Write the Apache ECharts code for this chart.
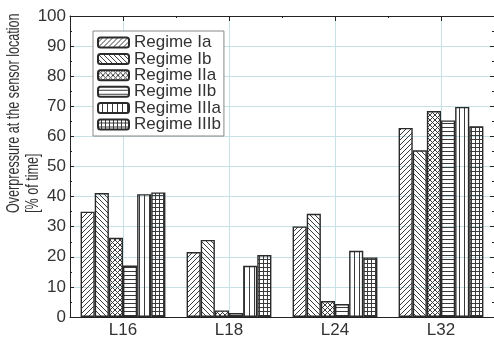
<!DOCTYPE html>
<html>
<head>
<meta charset="utf-8">
<script src="https://cdn.jsdelivr.net/npm/echarts@6/dist/echarts.min.js"></script>
<style>
html,body{margin:0;padding:0;background:#fff;}
#chart{width:494px;height:341px;}
</style>
</head>
<body>
<div id="chart"></div>
<script>
const categories = ['L16', 'L18', 'L24', 'L32'];
const seriesNames = ['Regime Ia', 'Regime Ib', 'Regime IIa', 'Regime IIb', 'Regime IIIa', 'Regime IIIb'];
const regimeIa = [35.0, 21.6, 30.1, 62.8];
const regimeIb = [41.2, 25.6, 34.3, 55.4];
const regimeIIa = [26.3, 2.2, 5.3, 68.4];
const regimeIIb = [17.1, 1.3, 4.3, 65.3];
const regimeIIIa = [40.8, 17.0, 22.0, 69.8];
const regimeIIIb = [41.4, 20.6, 19.8, 63.4];
const yTicks = [0, 10, 20, 30, 40, 50, 60, 70, 80, 90, 100];
const yTitle = 'Overpressure at the sensor location\n[% of time]';

const seriesValues = [regimeIa, regimeIb, regimeIIa, regimeIIb, regimeIIIa, regimeIIIb];
const patternTypes = ['fwd', 'back', 'cross', 'horiz', 'vert', 'grid'];

function makePattern(type) {
  let s = 5;
  if (type === 'horiz' || type === 'grid') s = 4;
  const c = document.createElement('canvas');
  c.width = s; c.height = s;
  const ctx = c.getContext('2d');
  ctx.strokeStyle = '#3a3a3a';
  ctx.lineWidth = 1;
  ctx.beginPath();
  if (type === 'fwd' || type === 'cross') {
    ctx.moveTo(0, s); ctx.lineTo(s, 0);
    ctx.moveTo(-1, 1); ctx.lineTo(1, -1);
    ctx.moveTo(s - 1, s + 1); ctx.lineTo(s + 1, s - 1);
  }
  if (type === 'back' || type === 'cross') {
    ctx.moveTo(0, 0); ctx.lineTo(s, s);
    ctx.moveTo(-1, s - 1); ctx.lineTo(1, s + 1);
    ctx.moveTo(s - 1, -1); ctx.lineTo(s + 1, 1);
  }
  if (type === 'horiz' || type === 'grid') {
    ctx.moveTo(0, s - 0.5); ctx.lineTo(s, s - 0.5);
  }
  if (type === 'vert' || type === 'grid') {
    ctx.moveTo(s - 0.5, 0); ctx.lineTo(s - 0.5, s);
  }
  ctx.stroke();
  return { image: c, repeat: 'repeat' };
}

const gridColor = '#c6e2e4';
const textColor = '#333';
const fontFam = '"Liberation Sans", Arial, sans-serif';
const blanks9 = ['', '', '', '', '', '', '', '', ''];

const chart = echarts.init(document.getElementById('chart'), null, { renderer: 'canvas' });
const option = {
  animation: false,
  backgroundColor: '#fff',
  textStyle: { fontFamily: fontFam },
  grid: { left: 70, right: -1.5, top: 16, bottom: 24, containLabel: false },
  legend: {
    orient: 'vertical',
    left: 93, top: 31,
    padding: [3, 3, 3, 4],
    itemWidth: 31, itemHeight: 10,
    itemGap: -0.6,
    backgroundColor: '#fff',
    borderColor: '#888', borderWidth: 1,
    textStyle: { fontSize: 17, color: textColor, fontFamily: fontFam, lineHeight: 16 },
    data: seriesNames
  },
  xAxis: [
    {
      type: 'category', data: categories, position: 'bottom',
      axisLine: { lineStyle: { color: '#222', width: 1 } },
      axisTick: { inside: true, length: 2, lineStyle: { color: '#222' } },
      axisLabel: { fontSize: 17, color: textColor, margin: 5, fontFamily: fontFam },
      splitLine: { show: false }
    },
    {
      type: 'category', data: blanks9, boundaryGap: false, position: 'bottom',
      axisLine: { show: false }, axisTick: { show: false }, axisLabel: { show: false },
      splitLine: { show: true, interval: function (i) { return i % 2 === 1; }, lineStyle: { color: gridColor, width: 1 } }
    },
    {
      type: 'category', data: blanks9, boundaryGap: false, position: 'top',
      axisLine: { show: true, lineStyle: { color: '#222', width: 1 } },
      axisTick: { show: true, inside: true, length: 5, interval: function (i) { return i % 2 === 1; }, lineStyle: { color: '#222' } },
      axisLabel: { show: false }, splitLine: { show: false }
    },
    {
      type: 'category', data: blanks9, boundaryGap: false, position: 'top',
      axisLine: { show: false },
      axisTick: { show: true, inside: true, length: 2, interval: function (i) { return i % 2 === 0; }, lineStyle: { color: '#222' } },
      axisLabel: { show: false }, splitLine: { show: false }
    }
  ],
  yAxis: [
    {
      type: 'value', min: yTicks[0], max: yTicks[yTicks.length - 1], interval: 10, position: 'left',
      axisLine: { show: true, lineStyle: { color: '#222', width: 1 } },
      axisTick: { show: true, inside: true, length: 4, lineStyle: { color: '#222' } },
      minorTick: { show: true, splitNumber: 2, length: 2, lineStyle: { color: '#222' } },
      axisLabel: { fontSize: 17, color: textColor, margin: 4, fontFamily: fontFam },
      splitLine: { show: true, lineStyle: { color: gridColor, width: 1 } }
    },
    {
      type: 'value', min: yTicks[0], max: yTicks[yTicks.length - 1], interval: 10, position: 'right',
      axisLine: { show: true, lineStyle: { color: '#222', width: 1 } },
      axisTick: { show: true, inside: true, length: 4, lineStyle: { color: '#222' } },
      minorTick: { show: true, splitNumber: 2, length: 2, lineStyle: { color: '#222' } },
      axisLabel: { show: false },
      splitLine: { show: false }
    }
  ],
  graphic: [
    {
      type: 'text',
      x: 5, y: 213,
      rotation: Math.PI / 2,
      scaleX: 0.72,
      style: {
        text: yTitle,
        fontSize: 17.5,
        fontFamily: fontFam,
        fill: textColor,
        align: 'left',
        verticalAlign: 'top',
        lineHeight: 19
      }
    }
  ],
  series: seriesNames.map(function (name, i) {
    return {
      name: name,
      type: 'bar',
      xAxisIndex: 0, yAxisIndex: 0,
      barGap: '0%',
      barCategoryGap: '20%',
      data: seriesValues[i],
      itemStyle: {
        color: makePattern(patternTypes[i]),
        borderColor: '#2a2a2a',
        borderWidth: 1.4
      },
      emphasis: { disabled: true }
    };
  })
};
chart.setOption(option);
</script>
</body>
</html>
